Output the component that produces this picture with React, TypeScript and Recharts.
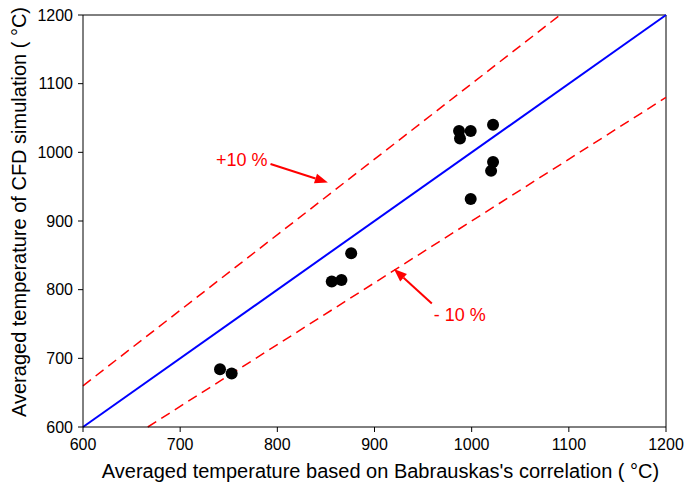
import React from "react";
import {
  ComposedChart,
  Scatter,
  XAxis,
  YAxis,
  ReferenceLine,
} from "recharts";

document.body.style.margin = "0";

// Babrauskas correlation (x) vs CFD simulation (y), °C
const babrauskas = [741, 753, 856, 866, 876, 987, 988, 999, 1022, 1022, 1020, 999];
const cfd = [684, 678, 812, 814, 853, 1031, 1020, 1031, 1040, 986, 973, 932];

const ticks = [600, 700, 800, 900, 1000, 1100, 1200];
const lo = 600;
const hi = 1200;
const plus = 1.1;
const minus = 0.9;

// arrow annotations: [start, tip] in data units
const plusArrow = [{ x: 793, y: 983 }, { x: 852, y: 956 }];
const minusArrow = [{ x: 959, y: 780 }, { x: 920, y: 830 }];

const points = babrauskas.map((x, i) => ({ x, y: cfd[i] }));

const FONT = "'Liberation Sans', Arial, sans-serif";

function arrowShape(text: string, side: "left" | "below") {
  return (props: any) => {
    const { x1, y1, x2, y2 } = props;
    const ang = Math.atan2(y2 - y1, x2 - x1);
    const len = 13;
    const w = 5;
    const bx = x2 - len * Math.cos(ang);
    const by = y2 - len * Math.sin(ang);
    const px = -Math.sin(ang) * w;
    const py = Math.cos(ang) * w;
    return (
      <g>
        <line x1={x1} y1={y1} x2={bx} y2={by} stroke="#ff0000" strokeWidth={2} />
        <polygon
          points={`${x2},${y2} ${bx + px},${by + py} ${bx - px},${by - py}`}
          fill="#ff0000"
        />
        {side === "left" ? (
          <text x={x1 - 3} y={y1 + 2} textAnchor="end" fill="#ff0000" fontSize={18} fontFamily={FONT}>
            {text}
          </text>
        ) : (
          <text x={x1 + 2} y={y1 + 18} textAnchor="start" fill="#ff0000" fontSize={18} fontFamily={FONT}>
            {text}
          </text>
        )}
      </g>
    );
  };
}

const yLabel = () => (
  <text
    transform="translate(19, 212) rotate(-90)"
    textAnchor="middle"
    dominantBaseline="central"
    fontSize={20}
    fill="#000"
    fontFamily={FONT}
  >
    Averaged temperature of CFD simulation ( °C)
  </text>
);

export default function App() {
  return (
    <ComposedChart
      width={684}
      height={489}
      margin={{ top: 15, right: 18, left: 5, bottom: 7 }}
      style={{ fontFamily: FONT }}
    >
      <XAxis
        type="number"
        dataKey="x"
        domain={[lo, hi]}
        ticks={ticks}
        allowDataOverflow
        height={55}
        tickSize={5}
        stroke="#000"
        tick={{ fontSize: 16, fill: "#000", dy: 5 }}
        label={{
          value: "Averaged temperature based on Babrauskas's correlation ( °C)",
          position: "insideBottom",
          offset: 4,
          dx: 6,
          style: { fontSize: 20, fill: "#000" },
        }}
      />
      <YAxis
        type="number"
        dataKey="y"
        domain={[lo, hi]}
        ticks={ticks}
        allowDataOverflow
        width={78}
        tickSize={5}
        stroke="#000"
        tick={{ fontSize: 16, fill: "#000", dx: -3 }}
        label={{ content: yLabel }}
      />
      <ReferenceLine y={hi} stroke="#000" />
      <ReferenceLine x={hi} stroke="#000" />
      <ReferenceLine
        segment={[{ x: lo, y: lo }, { x: hi, y: hi }]}
        stroke="#0000ff"
        strokeWidth={2}
      />
      <ReferenceLine
        segment={[{ x: lo, y: lo * plus }, { x: hi / plus, y: hi }]}
        stroke="#ff0000"
        strokeWidth={1.5}
        strokeDasharray="10 6"
      />
      <ReferenceLine
        segment={[{ x: lo / minus, y: lo }, { x: hi, y: hi * minus }]}
        stroke="#ff0000"
        strokeWidth={1.5}
        strokeDasharray="10 6"
      />
      <ReferenceLine segment={plusArrow} shape={arrowShape("+10 %", "left")} />
      <ReferenceLine segment={minusArrow} shape={arrowShape("- 10 %", "below")} />
      <Scatter data={points} fill="#000" isAnimationActive={false} shape={(p: any) => <circle cx={p.cx} cy={p.cy} r={6} fill="#000" />} />
    </ComposedChart>
  );
}
